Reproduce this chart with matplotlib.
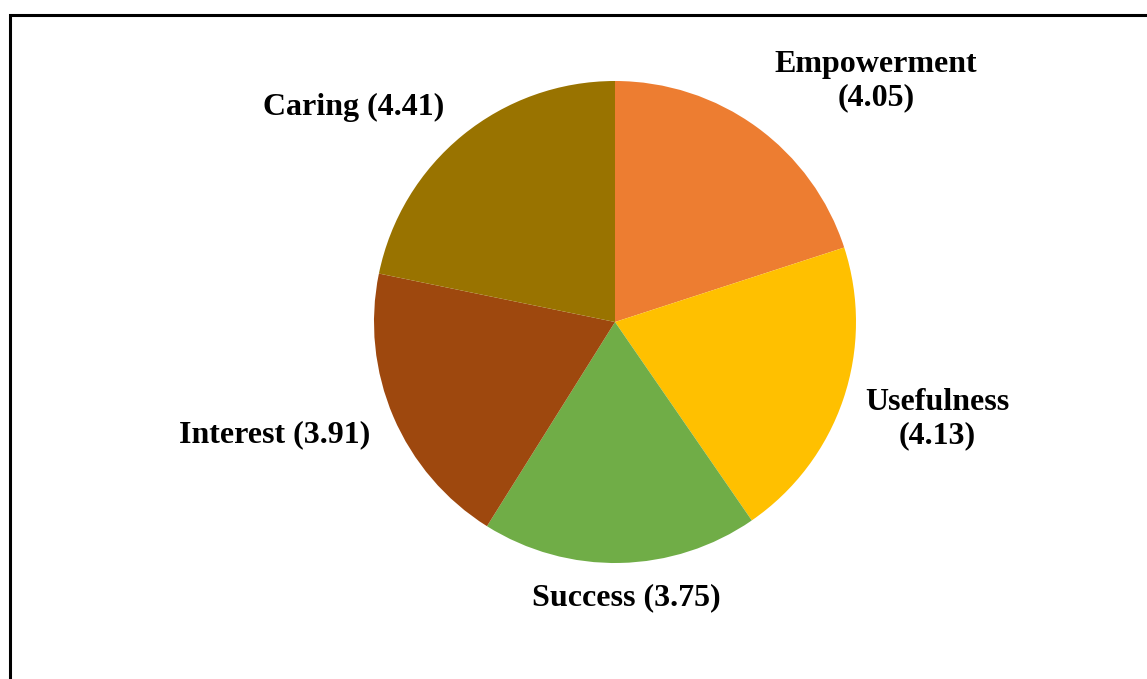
import matplotlib
matplotlib.use("Agg")
import matplotlib.pyplot as plt
from matplotlib.patches import Rectangle

# data
labels = ["Empowerment\n(4.05)", "Usefulness\n(4.13)", "Success (3.75)",
          "Interest (3.91)", "Caring (4.41)"]
values = [4.05, 4.13, 3.75, 3.91, 4.41]
colors = ["#ED7D31", "#FFC000", "#70AD47", "#9E480E", "#997300"]

# label centres in pixel coords (x from left, y from top)
label_pos = [(876, 81), (937, 419), (626, 598), (275, 435), (354, 107)]

W, H = 1147, 679
fig = plt.figure(figsize=(W / 100, H / 100), dpi=100)
ax = fig.add_axes([0, 0, 1, 1])

cx, cy, r = 615, 322, 241
ax.pie(values, colors=colors, startangle=90, counterclock=False,
       center=(cx, H - cy), radius=r, wedgeprops=dict(linewidth=0))

for lab, (lx, ly) in zip(labels, label_pos):
    ax.text(lx, H - ly, lab, ha="center", va="center", fontsize=23,
            fontweight="bold", family="Liberation Serif", linespacing=1.22)

# frame around the chart (cut off at right and bottom)
ax.add_patch(Rectangle((9.5, -50), W + 100, H - 15 + 50, fill=False,
                       edgecolor="black", linewidth=2.2, clip_on=False))

ax.set_xlim(0, W)
ax.set_ylim(0, H)
ax.set_aspect("equal")
ax.axis("off")

fig.savefig("out.png", dpi=100)
